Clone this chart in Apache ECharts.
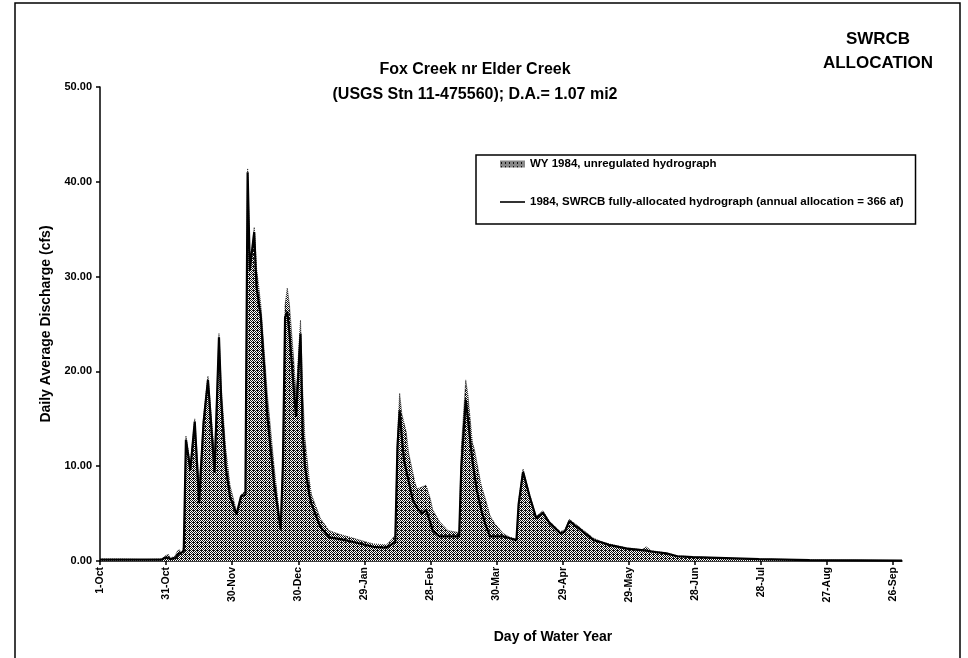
<!DOCTYPE html>
<html>
<head>
<meta charset="utf-8">
<script src="https://cdn.jsdelivr.net/npm/echarts@6/dist/echarts.min.js"></script>
<style>
html,body{margin:0;padding:0;background:#fff;}
#chart{width:968px;height:658px;}
</style>
</head>
<body>
<div id="chart"></div>
<script>
// ---- Data (day of water year, daily average discharge cfs) ----
const tickLabels = ['1-Oct','31-Oct','30-Nov','30-Dec','29-Jan','28-Feb','30-Mar','29-Apr','29-May','28-Jun','28-Jul','27-Aug','26-Sep'];
const tickDays = [0,30,60,90,120,150,180,210,240,270,300,330,360];
const yTicks = [0,10,20,30,40,50];

const unregulatedName = 'WY 1984, unregulated hydrograph';
const allocatedName = '1984, SWRCB fully-allocated hydrograph (annual allocation = 366 af)';

const unregulated = [
  [0,0.2],[10,0.2],[20,0.15],[28,0.2],[30,0.6],[31,0.7],[32,0.3],[34,0.5],[35,1.0],[36,1.2],[37,0.8],[38,1.5],
  [39,13.2],[41,10.2],[43,15.0],[45,8.0],[47,15.2],[49,19.5],[52,11.0],[54,24.0],[55,18.5],[57,12.0],[59,8.0],
  [62,5.2],[64,7.0],[66,7.4],[67,41.4],[68,32.0],[69,33.0],[70,35.2],[71,31.0],[73,27.0],[76,17.5],[79,10.0],
  [82,3.8],[83,11.0],[84,27.0],[85,28.8],[86,27.0],[88,21.0],[89,17.5],[91,25.4],[92,18.0],[93,13.0],[95,8.5],
  [96,7.0],[100,4.5],[104,3.2],[109,2.8],[115,2.4],[124,1.8],[130,1.7],[134,2.7],[135,13.0],[136,17.7],[137,15.5],
  [139,13.6],[140,11.5],[143,8.2],[144,7.6],[146,7.8],[148,8.0],[150,6.5],[151,5.4],[154,4.2],[158,3.2],[163,3.0],
  [164,12.0],[166,19.1],[167,17.5],[169,12.5],[170,11.7],[173,8.0],[175,6.5],[177,4.8],[179,4.0],[183,2.9],
  [186,2.5],[189,2.3],[190,6.3],[192,9.7],[195,7.0],[198,4.7],[201,5.3],[204,4.2],[209,3.1],[211,3.3],[213,4.4],
  [218,3.5],[224,2.4],[227,2.1],[231,1.8],[239,1.4],[246,1.2],[248,1.5],[250,1.1],[257,0.85],[262,0.55],
  [269,0.45],[284,0.3],[299,0.22],[322,0.12],[364,0.05]
];

const allocated = [
  [0,0.15],[28,0.15],[30,0.4],[32,0.2],[34,0.3],[36,0.8],[38,1.0],
  [39,12.8],[41,9.6],[43,14.7],[45,6.1],[47,14.6],[49,19.1],[52,9.3],[54,23.6],[55,17.0],[57,10.0],[59,6.8],
  [62,4.9],[64,6.8],[66,7.0],[67,41.0],[68,30.7],[70,34.7],[71,29.0],[73,25.7],[76,15.2],[79,8.2],
  [82,3.3],[83,10.0],[84,25.7],[85,26.3],[86,24.0],[88,18.0],[89,15.2],[91,24.0],[92,13.5],[93,10.0],[95,7.0],
  [96,6.0],[100,3.6],[104,2.5],[109,2.3],[115,2.0],[124,1.5],[130,1.4],[134,2.0],[135,12.0],[136,15.9],[137,13.0],
  [138,10.6],[140,8.5],[142,6.4],[144,5.6],[146,5.0],[148,5.4],[150,4.0],[151,3.2],[154,2.6],[158,2.6],[163,2.6],
  [164,10.0],[166,17.0],[167,15.0],[169,10.6],[171,7.5],[173,5.4],[175,3.8],[177,2.6],[179,2.6],[183,2.6],
  [186,2.4],[189,2.2],[190,6.0],[192,9.4],[195,6.8],[198,4.5],[201,5.1],[204,4.0],[209,2.9],[211,3.1],[213,4.2],
  [218,3.3],[224,2.2],[227,2.0],[231,1.7],[239,1.3],[248,1.1],[250,1.0],[257,0.8],[262,0.5],
  [269,0.4],[284,0.3],[299,0.2],[322,0.1],[364,0.05]
];

// ---- Stipple pattern for the unregulated area ----
const pat = document.createElement('canvas');
pat.width = 4; pat.height = 4;
const g = pat.getContext('2d');
g.fillStyle = '#ffffff'; g.fillRect(0,0,4,4);
g.fillStyle = '#111111';
for (let i = 0; i < 4; i++) for (let j = 0; j < 4; j++) {
  if ((i + j) % 2 === 0 || (i === 1 && j === 2)) g.fillRect(i, j, 1, 1);
}
const hatch = {image: pat, repeat: 'repeat'};

const FONT = "'Liberation Sans', Arial, sans-serif";

const chart = echarts.init(document.getElementById('chart'), null, {renderer: 'canvas'});
chart.setOption({
  animation: false,
  backgroundColor: '#ffffff',
  title: [
    {
      text: 'Fox Creek nr Elder Creek\n(USGS Stn 11-475560); D.A.= 1.07 mi2',
      left: 470, top: 52, textAlign: 'center',
      textStyle: {fontFamily: FONT, fontSize: 16, fontWeight: 'bold', color: '#000', lineHeight: 25}
    },
    {
      text: 'SWRCB\nALLOCATION',
      left: 873, top: 22, textAlign: 'center',
      textStyle: {fontFamily: FONT, fontSize: 17, fontWeight: 'bold', color: '#000', lineHeight: 24, align: 'center'}
    }
  ],
  legend: {
    left: 476, top: 155, orient: 'vertical',
    itemWidth: 25, itemHeight: 7, itemGap: 26,
    padding: [3, 12, 16, 24],
    borderColor: '#000', borderWidth: 1.5,
    selectedMode: false,
    textStyle: {fontFamily: FONT, fontSize: 11.5, fontWeight: 'bold', color: '#000'},
    data: [
      {name: unregulatedName, icon: 'rect', itemStyle: {color: hatch, borderWidth: 0}},
      {name: allocatedName, icon: 'path://M0,0L25,0L25,1.6L0,1.6Z', itemStyle: {color: '#000', borderWidth: 0}}
    ]
  },
  grid: {left: 100, right: 66, top: 87, bottom: 97, containLabel: false},
  xAxis: {
    type: 'value', min: 0, max: 364,
    name: 'Day of Water Year', nameLocation: 'middle', nameGap: 69,
    nameTextStyle: {fontFamily: FONT, fontSize: 14, fontWeight: 'bold', color: '#000', padding: [0, 0, 0, 104]},
    axisLine: {show: true, lineStyle: {color: '#000', width: 1.5}},
    axisTick: {show: true, length: 4, customValues: tickDays, lineStyle: {color: '#000', width: 1.5}},
    axisLabel: {
      customValues: tickDays, rotate: 90, margin: 6,
      fontFamily: FONT, fontSize: 10.5, fontWeight: 'bold', color: '#000',
      formatter: function (v) { const i = tickDays.indexOf(v); return i >= 0 ? tickLabels[i] : ''; }
    },
    splitLine: {show: false}
  },
  yAxis: {
    type: 'value', min: 0, max: 50, interval: 10,
    name: 'Daily Average Discharge (cfs)', nameLocation: 'middle', nameGap: 46,
    nameTextStyle: {fontFamily: FONT, fontSize: 14, fontWeight: 'bold', color: '#000'},
    axisLine: {show: true, lineStyle: {color: '#000', width: 1.5}},
    axisTick: {show: true, length: 4, lineStyle: {color: '#000', width: 1.5}},
    axisLabel: {
      margin: 8, fontFamily: FONT, fontSize: 11, fontWeight: 'bold', color: '#000',
      formatter: function (v) { return v.toFixed(2); }
    },
    splitLine: {show: false}
  },
  series: [
    {
      name: unregulatedName, type: 'line', data: unregulated,
      symbol: 'none', z: 1,
      lineStyle: {color: '#333', width: 1, type: 'dotted'},
      areaStyle: {color: hatch, opacity: 1}
    },
    {
      name: allocatedName, type: 'line', data: allocated,
      symbol: 'none', z: 2,
      lineStyle: {color: '#000', width: 2.2}
    }
  ],
  graphic: [
    {type: 'rect', shape: {x: 15, y: 3, width: 945, height: 700}, style: {fill: 'none', stroke: '#000', lineWidth: 1.5}, silent: true, z: -1}
  ]
});
</script>
</body>
</html>
